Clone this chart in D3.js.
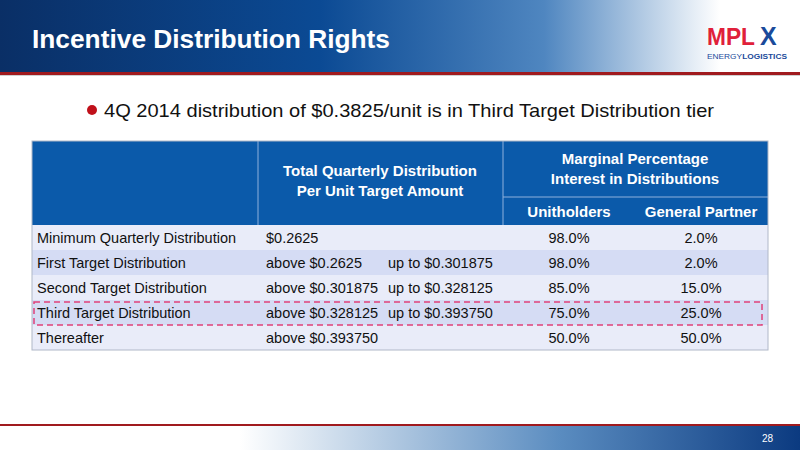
<!DOCTYPE html>
<html><head><meta charset="utf-8">
<script src="https://cdn.jsdelivr.net/npm/d3@7"></script>
<style>body{margin:0;background:#fff}text{font-family:"Liberation Sans",Arial,sans-serif}</style>
</head><body>
<script>
const WIDTH = 800, HEIGHT = 450;

const title = "Incentive Distribution Rights";
const bullet = "4Q 2014 distribution of $0.3825/unit is in Third Target Distribution tier";
const tiers = ["Minimum Quarterly Distribution", "First Target Distribution", "Second Target Distribution", "Third Target Distribution", "Thereafter"];
const lowerBound = ["$0.2625", "above $0.2625", "above $0.301875", "above $0.328125", "above $0.393750"];
const upperBound = ["", "up to $0.301875", "up to $0.328125", "up to $0.393750", ""];
const unitholders = ["98.0%", "98.0%", "85.0%", "75.0%", "50.0%"];
const generalPartner = ["2.0%", "2.0%", "15.0%", "25.0%", "50.0%"];
const highlightTier = "Third Target Distribution";
const pageNumber = "28";

let svg = d3.select("body").append("svg")
  .attr("width", WIDTH).attr("height", HEIGHT);

let defs = svg.append("defs");
let g1 = defs.append("linearGradient").attr("id", "topGrad");
g1.append("stop").attr("offset", "0").attr("stop-color", "#0a2f66");
g1.append("stop").attr("offset", "0.4").attr("stop-color", "#0b4a94");
g1.append("stop").attr("offset", "0.68").attr("stop-color", "#4f86c0");
g1.append("stop").attr("offset", "0.9").attr("stop-color", "#ffffff");
let g2 = defs.append("linearGradient").attr("id", "botGrad");
g2.append("stop").attr("offset", "0.3").attr("stop-color", "#ffffff");
g2.append("stop").attr("offset", "0.7").attr("stop-color", "#5a8cc0");
g2.append("stop").attr("offset", "1").attr("stop-color", "#0b3a80");

// header band
svg.append("rect").attr("width", WIDTH).attr("height", 72).attr("fill", "url(#topGrad)");
svg.append("rect").attr("y", 72).attr("width", WIDTH).attr("height", 3).attr("fill", "#a01a1e");
svg.append("rect").attr("y", 75).attr("width", WIDTH).attr("height", 1).attr("fill", "#cfcfcf");
svg.append("text").attr("x", 32).attr("y", 48).attr("fill", "#fff")
  .attr("font-size", 26).attr("font-weight", "bold")
  .attr("textLength", 358).attr("lengthAdjust", "spacingAndGlyphs").text(title);

// logo
let logo = svg.append("g").attr("transform", "translate(707,24)");
logo.append("text").attr("x", 0).attr("y", 21).attr("font-size", 23).attr("font-weight", "bold")
  .attr("fill", "#e0203a").attr("textLength", 48).attr("lengthAdjust", "spacingAndGlyphs").text("MPL");
logo.append("text").attr("x", 53).attr("y", 21).attr("font-size", 25).attr("font-weight", "bold")
  .attr("fill", "#1a4a9a").text("X");
logo.append("text").attr("x", 0).attr("y", 35).attr("font-size", 7).attr("fill", "#1a4a9a")
  .attr("textLength", 80).attr("lengthAdjust", "spacingAndGlyphs")
  .text("ENERGY").append("tspan").attr("font-weight", "bold").text("LOGISTICS");

// bullet
svg.append("circle").attr("cx", 92).attr("cy", 110).attr("r", 5).attr("fill", "#c0101a");
svg.append("text").attr("x", 104).attr("y", 117).attr("font-size", 19).attr("fill", "#111")
  .attr("textLength", 610).attr("lengthAdjust", "spacingAndGlyphs").text(bullet);

// table
let x = d3.scaleOrdinal().domain(["tier", "amount", "upto", "unit", "gp"]).range([32, 258, 388, 503, 635]);
let xEnd = 768;
let y = d3.scaleBand().domain(tiers).range([225, 350]);
let headTop = 141, sub = 197;

svg.append("rect").attr("x", 32).attr("y", headTop).attr("width", xEnd - 32).attr("height", 225 - headTop).attr("fill", "#0b5aaa");
svg.selectAll(".vl").data([x("amount"), x("unit")]).enter().append("line")
  .attr("x1", d => d).attr("x2", d => d).attr("y1", headTop).attr("y2", 225)
  .attr("stroke", "#8fb0dc").attr("stroke-width", 1);
svg.append("line").attr("x1", x("unit")).attr("x2", xEnd).attr("y1", sub).attr("y2", sub)
  .attr("stroke", "#8fb0dc");

let hdr = svg.append("g").attr("fill", "#fff").attr("font-size", 15).attr("font-weight", "bold").attr("text-anchor", "middle");
hdr.append("text").attr("x", 380).attr("y", 176).text("Total Quarterly Distribution");
hdr.append("text").attr("x", 380).attr("y", 196).text("Per Unit Target Amount");
hdr.append("text").attr("x", 635).attr("y", 164).text("Marginal Percentage");
hdr.append("text").attr("x", 635).attr("y", 184).text("Interest in Distributions");
hdr.append("text").attr("x", 569).attr("y", 217).text("Unitholders");
hdr.append("text").attr("x", 701).attr("y", 217).text("General Partner");

let rows = svg.selectAll(".row").data(tiers).enter().append("g")
  .attr("transform", d => "translate(0," + y(d) + ")");
rows.append("rect").attr("x", 32).attr("width", xEnd - 32).attr("height", y.bandwidth())
  .attr("fill", (d, i) => i % 2 ? "#d5dcf4" : "#e9ecf9");
let ty = y.bandwidth() / 2 + 5;
let cells = rows.append("g").attr("font-size", 14.5).attr("fill", "#111");
cells.append("text").attr("x", x("tier") + 5).attr("y", ty).text(d => d);
cells.append("text").attr("x", x("amount") + 8).attr("y", ty).text((d, i) => lowerBound[i]);
cells.append("text").attr("x", x("upto")).attr("y", ty).text((d, i) => upperBound[i]);
cells.append("text").attr("x", 569).attr("y", ty).attr("text-anchor", "middle").text((d, i) => unitholders[i]);
cells.append("text").attr("x", 701).attr("y", ty).attr("text-anchor", "middle").text((d, i) => generalPartner[i]);
svg.append("rect").attr("x", 32).attr("y", headTop).attr("width", xEnd - 32).attr("height", 350 - headTop)
  .attr("fill", "none").attr("stroke", "#b0b8c8");

// highlight box
svg.append("rect").attr("x", 34).attr("y", y(highlightTier) + 2).attr("width", 728).attr("height", y.bandwidth() - 2)
  .attr("fill", "none").attr("stroke", "#e0407a").attr("stroke-width", 1.5).attr("stroke-dasharray", "6,4");

// footer
svg.append("rect").attr("y", 424).attr("width", WIDTH).attr("height", 2).attr("fill", "#a01a1e");
svg.append("rect").attr("y", 426).attr("width", WIDTH).attr("height", 24).attr("fill", "url(#botGrad)");
svg.append("text").attr("x", 773).attr("y", 442).attr("font-size", 10).attr("fill", "#fff")
  .attr("text-anchor", "end").text(pageNumber);
</script>
</body></html>
